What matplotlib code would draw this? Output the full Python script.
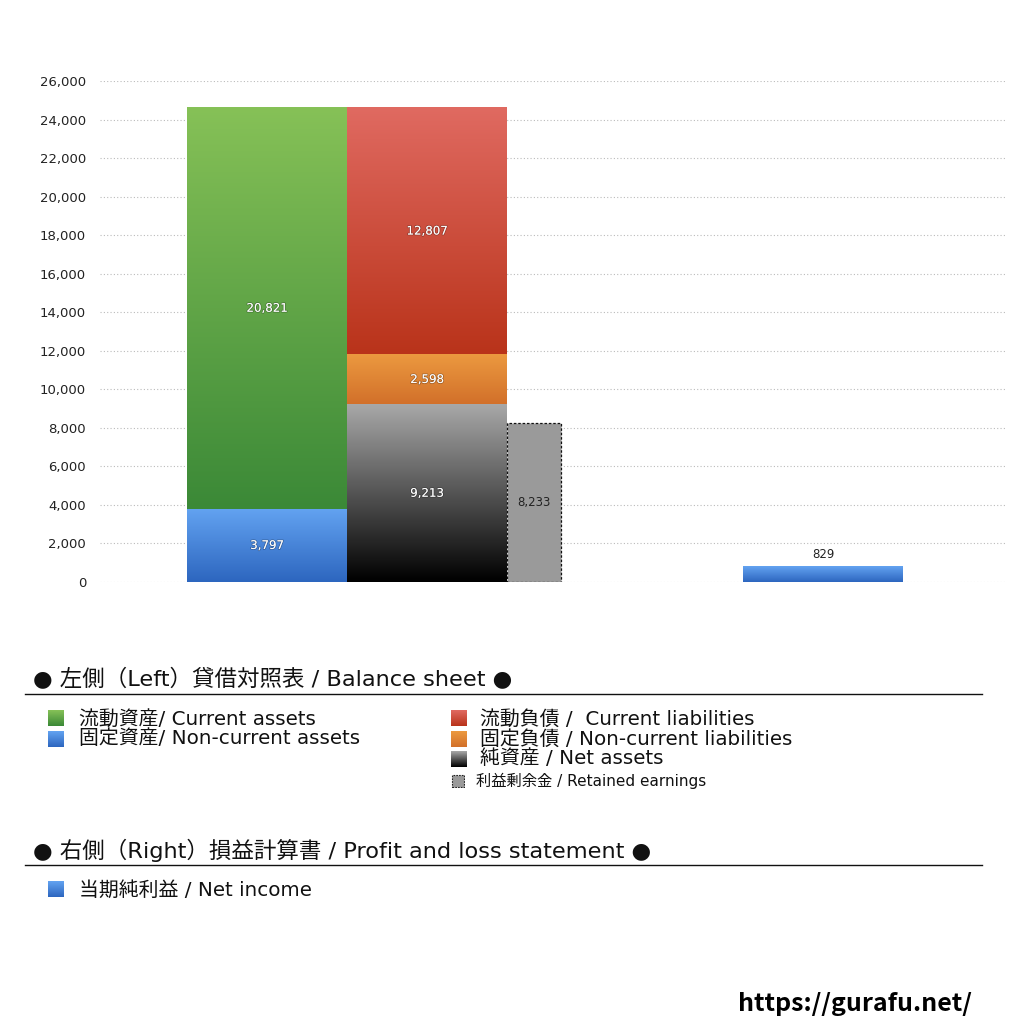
import numpy as np
import matplotlib
matplotlib.use("Agg")
import matplotlib.pyplot as plt
from matplotlib.colors import LinearSegmentedColormap
from matplotlib.patches import Rectangle
import matplotlib.patheffects as pe
from matplotlib.lines import Line2D

FAM = ['DejaVu Sans', 'Noto Sans CJK JP']
plt.rcParams['font.family'] = FAM

# ---- data ----
current_assets = 20821
noncurrent_assets = 3797
current_liabilities = 12807
noncurrent_liabilities = 2598
net_assets = 9213
retained_earnings = 8233
net_income = 829
yticks = list(range(0, 26001, 2000))

section1_title = "● 左側（Left）貸借対照表 / Balance sheet ●"
section2_title = "● 右側（Right）損益計算書 / Profit and loss statement ●"
legend_left = ["流動資産/ Current assets", "固定資産/ Non-current assets"]
legend_right = ["流動負債 /  Current liabilities", "固定負債 / Non-current liabilities",
                "純資産 / Net assets"]
legend_retained = "利益剰余金 / Retained earnings"
legend_pl = "当期純利益 / Net income"
url = "https://gurafu.net/"

# ---- styles ----
C_GREEN = ("#86c157", "#3b8937")
C_BLUE = ("#63a3f1", "#2d66bf")
C_RED = ("#e06a61", "#b9331a")
C_ORANGE = ("#ec9a40", "#d2702a")
C_BLACK = ("#a8a8a8", "#000000")
C_GRAY = "#9a9a9a"

W, H = 1024, 1024
fig = plt.figure(figsize=(W / 100, H / 100), dpi=100)

def fx(px):
    return px / W

def fy(py):
    return 1 - py / H

ax = fig.add_axes([fx(100), fy(582), fx(1005) - fx(100), fy(81) - fy(582)])
XMAX = 9.05
YMAX = 26000
ax.set_xlim(0, XMAX)
ax.set_ylim(0, YMAX)
for s in ax.spines.values():
    s.set_visible(False)
ax.set_xticks([])
ax.set_yticks(yticks)
ax.set_yticklabels([f"{v:,}" for v in yticks], fontsize=9.5, color="#222222")
ax.tick_params(axis='y', length=0, pad=10)
ax.yaxis.grid(True, linestyle=(0, (1, 2)), color="#bbbbbb", linewidth=0.8)
ax.set_axisbelow(True)

pos_assets, pos_liab, pos_ret, pos_pl = 1.67, 3.27, 4.34, 7.23
wide, narrow = 1.6, 0.54

def grad(ax, bar, top, bottom):
    x0, y0 = bar.get_x(), bar.get_y()
    w, h = bar.get_width(), bar.get_height()
    cmap = LinearSegmentedColormap.from_list("g", [bottom, top])
    ax.imshow(np.linspace(0, 1, 256).reshape(-1, 1), cmap=cmap,
              extent=[x0, x0 + w, y0, y0 + h], origin="lower",
              aspect="auto", zorder=2, interpolation="bilinear")

def seg(ax, x, val, bottom, w, colors, label_color="white"):
    b = ax.bar(x, val, width=w, bottom=bottom, color="none", edgecolor="none", zorder=2)[0]
    grad(ax, b, *colors)
    ax.text(x, bottom + val / 2, f"{val:,}", ha="center", va="center",
            fontsize=8.5, color=label_color, zorder=5,
            path_effects=[pe.withStroke(linewidth=1.2, foreground=(0, 0, 0, 0.25))])
    return b

seg(ax, pos_assets, noncurrent_assets, 0, wide, C_BLUE)
seg(ax, pos_assets, current_assets, noncurrent_assets, wide, C_GREEN)
seg(ax, pos_liab, net_assets, 0, wide, C_BLACK)
seg(ax, pos_liab, noncurrent_liabilities, net_assets, wide, C_ORANGE)
seg(ax, pos_liab, current_liabilities, net_assets + noncurrent_liabilities, wide, C_RED)

ax.bar(pos_ret, retained_earnings, width=narrow, color=C_GRAY, edgecolor="#111111",
       linestyle=(0, (2, 1.5)), linewidth=0.9, zorder=3)
ax.text(pos_ret, retained_earnings / 2, f"{retained_earnings:,}", ha="center", va="center",
        fontsize=8.5, color="#222222", zorder=5)

bpl = ax.bar(pos_pl, net_income, width=wide, color="none", edgecolor="none", zorder=2)[0]
grad(ax, bpl, *C_BLUE)
ax.text(pos_pl, net_income + 250, f"{net_income:,}", ha="center", va="bottom",
        fontsize=8.5, color="#222222", zorder=5)

ax.set_xlim(0, XMAX)
ax.set_ylim(0, YMAX)

# ---- legend area ----
def gsquare(px, py, colors, size=16, dotted=False):
    a = fig.add_axes([fx(px), fy(py + size), size / W, size / H])
    a.set_axis_off()
    if dotted:
        a.add_patch(Rectangle((0.05, 0.05), 0.9, 0.9, facecolor=C_GRAY, edgecolor="#222222",
                              linestyle=(0, (1.5, 1)), linewidth=0.8, transform=a.transAxes))
    else:
        cmap = LinearSegmentedColormap.from_list("g", [colors[1], colors[0]])
        a.imshow(np.linspace(0, 1, 64).reshape(-1, 1), cmap=cmap, origin="lower",
                 extent=[0, 1, 0, 1], aspect="auto")
    a.set_xlim(0, 1)
    a.set_ylim(0, 1)

title_fs = 16.2
item_fs = 14.3

fig.text(fx(33), fy(679), section1_title, fontsize=title_fs, va="center", ha="left", color="#111111")
fig.add_artist(Line2D([fx(25), fx(982)], [fy(694), fy(694)], color="#111111", linewidth=1.0))

gsquare(48, 710, C_GREEN)
fig.text(fx(79), fy(719), legend_left[0], fontsize=item_fs, va="center", color="#111111")
gsquare(48, 731, C_BLUE)
fig.text(fx(79), fy(739), legend_left[1], fontsize=item_fs, va="center", color="#111111")

gsquare(451, 710, C_RED)
fig.text(fx(480), fy(719), legend_right[0], fontsize=item_fs, va="center", color="#111111")
gsquare(451, 731, C_ORANGE)
fig.text(fx(480), fy(739), legend_right[1], fontsize=item_fs, va="center", color="#111111")
gsquare(451, 751, C_BLACK)
fig.text(fx(480), fy(759), legend_right[2], fontsize=item_fs, va="center", color="#111111")
gsquare(451, 774, None, size=14, dotted=True)
fig.text(fx(476), fy(781), legend_retained, fontsize=11, va="center", color="#111111")

fig.text(fx(33), fy(850), section2_title, fontsize=title_fs, va="center", ha="left", color="#111111")
fig.add_artist(Line2D([fx(25), fx(982)], [fy(865), fy(865)], color="#111111", linewidth=1.0))
gsquare(48, 881, C_BLUE)
fig.text(fx(79), fy(890), legend_pl, fontsize=item_fs, va="center", color="#111111")

fig.text(fx(972), fy(1004), url, fontsize=18, fontweight="bold", ha="right", va="center",
         color="#000000", family=['Noto Sans CJK JP', 'DejaVu Sans'])

fig.savefig("out.png", dpi=100, facecolor="white")
